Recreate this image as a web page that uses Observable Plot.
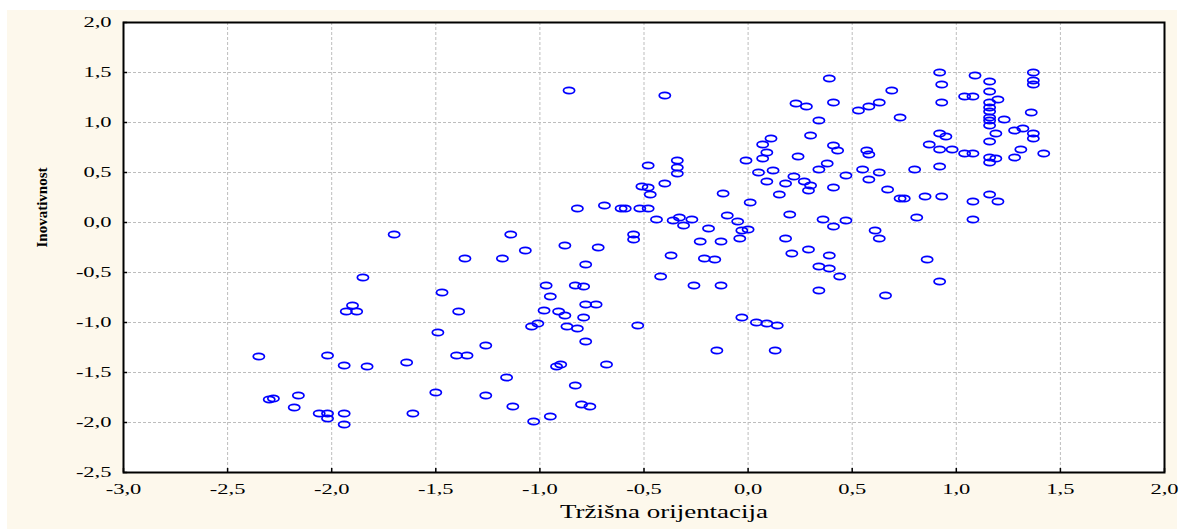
<!DOCTYPE html>
<html><head><meta charset="utf-8">
<script src="https://cdn.jsdelivr.net/npm/d3@7"></script>
<script src="https://cdn.jsdelivr.net/npm/@observablehq/plot@0.6"></script>
<style>
html,body{margin:0;padding:0;background:#fff;}
#wrap{position:relative;width:1184px;height:529px;overflow:hidden;}
#bg{position:absolute;left:7px;top:10px;width:1170px;height:519px;background:#fdf8ec;}
#chart{position:absolute;left:0;top:0;}
</style></head><body>
<div id="wrap"><div id="bg"></div><div id="chart"></div></div>
<script>
const xValues = [
  -0.86,-0.48,-0.51,-0.48,-0.47,-0.82,-0.69,-0.61,-0.59,-0.52,-0.48,-1.14,-0.55,
  -0.40,-0.34,-0.34,-0.34,-0.40,-0.44,-0.36,-0.33,-0.27,-0.31,-0.19,-0.12,
  -0.10,-0.05,-0.03,0.00,-0.01,0.01,0.11,0.07,0.09,0.07,0.05,0.12,
  0.09,0.15,0.18,0.22,0.27,0.30,0.29,0.24,0.20,0.23,0.28,0.34,
  0.30,0.39,0.41,0.41,0.43,0.38,0.34,0.47,0.41,0.36,0.41,0.47,
  0.61,0.92,0.93,0.93,0.69,0.63,0.58,0.53,0.73,0.92,0.95,0.87,
  0.92,0.98,1.04,1.08,0.57,0.58,0.55,0.63,0.58,0.80,0.92,0.67,
  0.73,0.75,0.85,0.93,0.81,1.08,1.08,1.09,1.04,1.08,1.16,1.16,
  1.16,1.16,1.16,1.16,1.16,1.16,1.20,1.23,1.36,1.37,1.37,1.37,
  1.19,1.16,1.28,1.32,1.37,1.37,1.31,1.42,1.28,1.16,1.19,1.16,
  1.16,1.20,
  -1.70,-1.85,-1.47,-1.90,-1.93,-1.88,-1.49,-2.35,-2.02,-1.94,-1.83,-1.64,
  -1.50,-2.30,-2.28,-2.16,-2.18,-2.06,-2.02,-2.02,-1.94,-1.94,-1.61,
  -0.55,-1.36,-1.18,-1.07,-0.88,-0.72,-0.78,-1.39,-0.97,-0.83,-0.79,-0.95,
  -0.98,-0.91,-0.88,-0.78,-0.73,-0.79,-1.04,-1.01,-0.87,-0.82,-0.53,-0.78,
  -1.26,-1.40,-1.35,-0.92,-0.90,-0.68,-1.16,-0.83,-1.26,-1.13,-0.80,-0.76,
  -1.03,-0.95,
  -0.23,-0.13,-0.04,0.18,-0.37,-0.21,-0.16,0.21,0.29,0.39,0.34,0.39,
  0.44,-0.42,-0.26,-0.13,0.34,-0.03,0.04,0.09,0.14,-0.15,0.13,
  0.63,0.86,0.92,0.66
];
const yValues = [
  1.32,0.57,0.36,0.35,0.28,0.14,0.17,0.14,0.14,0.14,0.14,-0.12,-0.12,
  1.27,0.62,0.55,0.49,0.39,0.03,0.02,0.05,0.03,-0.03,-0.06,0.29,
  0.07,0.01,-0.08,-0.07,0.62,0.20,0.84,0.78,0.70,0.64,0.50,0.52,
  0.41,0.28,0.39,0.46,0.41,0.37,0.32,0.66,0.08,1.19,1.16,1.02,
  0.87,1.44,1.20,0.77,0.72,0.59,0.53,0.47,0.35,0.03,-0.04,0.02,
  -0.08,1.50,1.38,1.20,1.32,1.20,1.16,1.12,1.05,0.89,0.86,0.78,
  0.73,0.73,0.69,0.69,0.72,0.68,0.53,0.50,0.43,0.53,0.56,0.33,
  0.24,0.24,0.26,0.26,0.05,0.21,0.03,1.47,1.26,1.26,1.41,1.31,
  1.20,1.15,1.11,1.05,1.02,0.97,1.23,1.03,1.10,1.50,1.42,1.38,
  0.89,0.81,0.92,0.94,0.89,0.84,0.73,0.69,0.65,0.65,0.64,0.60,
  0.28,0.21,
  -0.12,-0.55,-0.70,-0.83,-0.89,-0.89,-1.10,-1.34,-1.33,-1.43,-1.44,-1.40,
  -1.70,-1.77,-1.76,-1.73,-1.85,-1.91,-1.91,-1.96,-1.91,-2.02,-1.91,
  -0.17,-0.36,-0.36,-0.28,-0.23,-0.25,-0.42,-0.89,-0.63,-0.63,-0.64,-0.74,
  -0.88,-0.89,-0.93,-0.82,-0.82,-0.95,-1.04,-1.01,-1.04,-1.06,-1.03,-1.19,
  -1.23,-1.33,-1.33,-1.44,-1.42,-1.42,-1.55,-1.63,-1.73,-1.84,-1.82,-1.84,
  -1.99,-1.94,
  -0.19,-0.19,-0.16,-0.16,-0.33,-0.36,-0.37,-0.31,-0.27,-0.33,-0.44,-0.46,
  -0.54,-0.54,-0.63,-0.63,-0.68,-0.95,-1.00,-1.01,-1.03,-1.28,-1.28,
  -0.16,-0.37,-0.59,-0.73
];
const xTicks = [-3.0,-2.5,-2.0,-1.5,-1.0,-0.5,0.0,0.5,1.0,1.5,2.0];
const yTicks = [-2.5,-2.0,-1.5,-1.0,-0.5,0.0,0.5,1.0,1.5,2.0];
const xLabel = "Tržišna orijentacija";
const yLabel = "Inovativnost";

const points = xValues.map((x, i) => ({x, y: yValues[i]}));
const fmt = d => d.toFixed(1).replace(".", ",");

// open elliptical marker
const ellipse = {
  draw(ctx) {
    const rx = 5.6, ry = 3.2, k = 0.5523, kx = k * rx, ky = k * ry;
    ctx.moveTo(rx, 0);
    ctx.bezierCurveTo(rx, ky, kx, ry, 0, ry);
    ctx.bezierCurveTo(-kx, ry, -rx, ky, -rx, 0);
    ctx.bezierCurveTo(-rx, -ky, -kx, -ry, 0, -ry);
    ctx.bezierCurveTo(kx, -ry, rx, -ky, rx, 0);
    ctx.closePath();
  }
};

const chart = Plot.plot({
  width: 1184,
  height: 529,
  marginLeft: 123,
  marginRight: 20,
  marginTop: 22,
  marginBottom: 57,
  style: {background: "transparent", fontFamily: "'Liberation Serif', 'Times New Roman', serif", fontSize: "15px", color: "#000"},
  x: {domain: [-3, 2]},
  y: {domain: [-2.5, 2]},
  marks: [
    Plot.frame({fill: "white", stroke: null}),
    Plot.gridX(xTicks, {stroke: "#bdbdbd", strokeOpacity: 1, strokeDasharray: "3,2"}),
    Plot.gridY(yTicks, {stroke: "#bdbdbd", strokeOpacity: 1, strokeDasharray: "3,2"}),
    Plot.ruleX(xTicks, {x: d => d, y1: -2.5, y2: -2.46, stroke: "black", strokeWidth: 1.5}),
    Plot.ruleY(yTicks, {y: d => d, x1: -3, x2: -2.98, stroke: "black", strokeWidth: 1.5}),
    Plot.dot(points, {x: "x", y: "y", symbol: ellipse, stroke: "#0000ff", strokeWidth: 1.7, fill: "none"}),
    Plot.frame({stroke: "black", strokeWidth: 2}),
    Plot.axisX(xTicks, {tickSize: 0, tickPadding: 11, tickFormat: fmt, label: null, fill: "#000"}),
    Plot.axisY(yTicks, {tickSize: 0, tickPadding: 12, tickFormat: fmt, label: null, fill: "#000"}),
    Plot.text([xLabel], {text: d => d, frameAnchor: "bottom", dy: 45, dx: 20, fontSize: 18, fill: "#000"}),
    Plot.text([yLabel], {text: d => d, frameAnchor: "left", dx: -81, rotate: -90, fontSize: 15, fontWeight: "bold", fill: "#000"})
  ]
});

// horizontally stretched lettering, as in the original
function stretch(sel, s) {
  chart.querySelectorAll(sel).forEach(t => {
    t.setAttribute("transform", (t.getAttribute("transform") || "") + ` scale(${s},1)`);
  });
}
stretch('g[aria-label="x-axis tick label"] text, g[aria-label="y-axis tick label"] text', 1.5);
stretch('g[aria-label="text"]:nth-last-of-type(2) text', 1.5);

document.getElementById("chart").appendChild(chart);
</script>
</body></html>
